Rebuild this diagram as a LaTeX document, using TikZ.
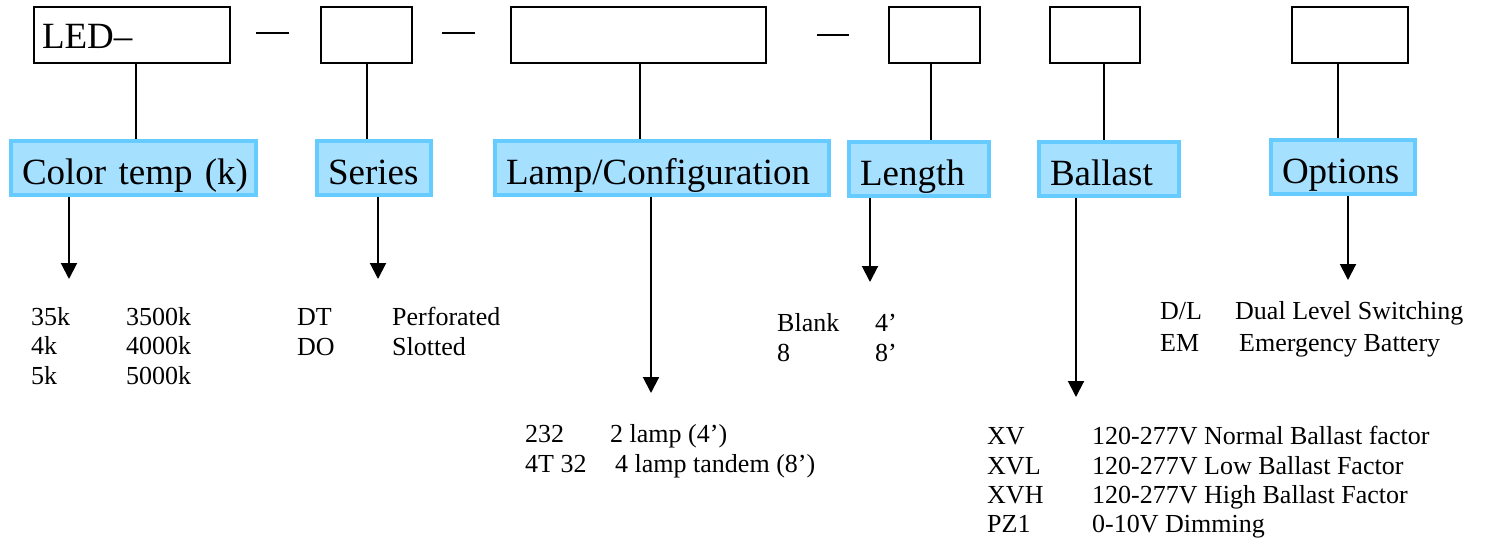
\documentclass[tikz,border=0pt]{standalone}
\usepackage{fontspec}
\setmainfont{Liberation Serif}
\usetikzlibrary{arrows.meta}
\definecolor{labfill}{RGB}{166,224,255}
\definecolor{labborder}{RGB}{102,204,255}
\newcommand\bigf{\fontsize{37}{44}\selectfont}
\newcommand\smallf{\fontsize{26}{30}\selectfont}
\begin{document}
\begin{tikzpicture}[x=1pt,y=-1pt,
  codebox/.style={draw, line width=2pt, minimum height=56pt, inner xsep=8pt, inner ysep=0pt,
    text height=26pt, text depth=0pt, align=left, anchor=north west, font=\bigf},
  lab/.style={draw=labborder, line width=4pt, fill=labfill, font=\bigf, inner xsep=11pt,
    inner ysep=0pt, text height=32pt, text depth=0pt, minimum height=54pt, align=left, anchor=north west},
  conn/.style={line width=2pt},
  arr/.style={line width=2pt, -{Triangle[width=16pt,length=16pt]}},
  item/.style={font=\smallf, anchor=base west, inner sep=0pt},
  dashline/.style={line width=2pt}]
\useasboundingbox (0,0) rectangle (1494,542);
% top code boxes
\node[codebox, text width=180pt] (b1) at (33,6) {LED–};
\node[codebox, text width=75pt] (b2) at (320,6) {};
\node[codebox, text width=239pt] (b3) at (510,6) {};
\node[codebox, text width=75pt] (b4) at (888,6) {};
\node[codebox, text width=74pt] (b5) at (1049,6) {};
\node[codebox, text width=100pt] (b6) at (1291,6) {};
% separators
\draw[dashline] (256,33) -- (289,33);
\draw[dashline] (442,33) -- (475,33);
\draw[dashline] (817,35) -- (849,35);
% labels
\node[lab, text width=223pt] (l1) at (9,139) {\mbox{Color temp (k)}};
\node[lab, text width=92pt] (l2) at (315,139) {Series};
\node[lab, text width=312pt] (l3) at (493,139) {\mbox{Lamp/Configuration}};
\node[lab, text width=118pt] (l4) at (847,140) {Length};
\node[lab, text width=118pt] (l5) at (1037,140) {Ballast};
\node[lab, text width=122pt] (l6) at (1269,138) {Options};
% connectors box -> label
\draw[conn] ([xshift=4pt]b1.south) -- ([xshift=4pt]b1.south |- l1.north);
\draw[conn] (b2.south) -- (b2.south |- l2.north);
\draw[conn] ([xshift=1pt]b3.south) -- ([xshift=1pt]b3.south |- l3.north);
\draw[conn] ([xshift=-4pt]b4.south) -- ([xshift=-4pt]b4.south |- l4.north);
\draw[conn] ([xshift=9pt]b5.south) -- ([xshift=9pt]b5.south |- l5.north);
\draw[conn] ([xshift=-12pt]b6.south) -- ([xshift=-12pt]b6.south |- l6.north);
% arrows
\coordinate (a1) at (69,279);
\coordinate (a2) at (378,279);
\coordinate (a3) at (651,393);
\coordinate (a4) at (870,282);
\coordinate (a5) at (1076,397);
\coordinate (a6) at (1348,280);
\draw[arr] (a1 |- l1.south) -- (a1);
\draw[arr] (a2 |- l2.south) -- (a2);
\draw[arr] (a3 |- l3.south) -- (a3);
\draw[arr] (a4 |- l4.south) -- (a4);
\draw[arr] (a5 |- l5.south) -- (a5);
\draw[arr] (a6 |- l6.south) -- (a6);
% color temp list
\node[item] (c1a) at (31,325) {35k};
\node[item] (c1b) at (126,325) {3500k};
\node[item] (c2a) at (31,354) {4k};
\node[item] (c2b) at (126,354) {4000k};
\node[item] (c3a) at (31,384) {5k};
\node[item] (c3b) at (126,384) {5000k};
% series list
\node[item] (s1a) at (297,325) {DT};
\node[item] (s1b) at (392,325) {Perforated};
\node[item] (s2a) at (297,355) {DO};
\node[item] (s2b) at (392,355) {Slotted};
% lamp list
\node[item] (p1a) at (525,442) {232};
\node[item] (p1b) at (610,442) {2 lamp (4’)};
\node[item] (p2a) at (525,472) {4T 32};
\node[item] (p2b) at (615,472) {4 lamp tandem (8’)};
% length list
\node[item] (n1a) at (777,331) {Blank};
\node[item] (n1b) at (875,331) {4’};
\node[item] (n2a) at (777,361) {8};
\node[item] (n2b) at (875,361) {8’};
% ballast list
\node[item] (k1a) at (987,444) {XV};
\node[item] (k1b) at (1092,444) {120-277V Normal Ballast factor};
\node[item] (k2a) at (987,474) {XVL};
\node[item] (k2b) at (1092,474) {120-277V Low Ballast Factor};
\node[item] (k3a) at (987,503) {XVH};
\node[item] (k3b) at (1092,503) {120-277V High Ballast Factor};
\node[item] (k4a) at (987,532) {PZ1};
\node[item] (k4b) at (1092,532) {0-10V Dimming};
% options list
\node[item] (o1a) at (1160,319) {D/L};
\node[item] (o1b) at (1235,319) {Dual Level Switching};
\node[item] (o2a) at (1160,351) {EM};
\node[item] (o2b) at (1239,351) {Emergency Battery};
\end{tikzpicture}
\end{document}
